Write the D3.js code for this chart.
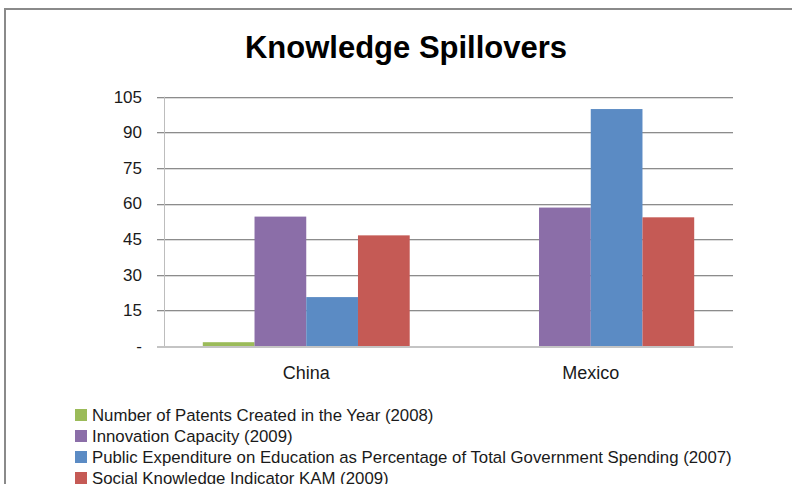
<!DOCTYPE html>
<html lang="en">
<head>
    <meta charset="UTF-8">
    <title>Knowledge Spillovers</title>
    <style>
        body {
            margin: 0;
            background-color: #FFFFFF;
            font-family: "Liberation Sans", Arial, sans-serif;
        }
        svg text {
            fill: #1a1a1a;
        }
    </style>
</head>
<body>
    <div id="chart"></div>

    <script src="https://d3js.org/d3.v7.min.js"></script>
    <script>
        // Data
        const categories = ["China", "Mexico"];
        const seriesNames = [
            "Number of Patents Created in the Year (2008)",
            "Innovation Capacity (2009)",
            "Public Expenditure on Education as Percentage of Total Government Spending (2007)",
            "Social Knowledge Indicator KAM (2009)"
        ];
        const patents = [1.6, 0];
        const innovation = [54.5, 58.3];
        const expenditure = [20.6, 99.8];
        const social = [46.6, 54.2];
        const yTicks = [0, 15, 30, 45, 60, 75, 90, 105];
        const colors = ["#9BBB59", "#8B6EA8", "#5B8BC4", "#C55A55"];

        const seriesValues = [patents, innovation, expenditure, social];

        const width = 792;
        const height = 484;
        const margin = { top: 96.7, right: 59, bottom: 138, left: 164 };

        const svg = d3.select("#chart")
            .append("svg")
            .attr("width", width)
            .attr("height", height);

        // Outer chart border
        svg.append("rect")
            .attr("x", 5)
            .attr("y", 9)
            .attr("width", 820)
            .attr("height", 520)
            .attr("fill", "none")
            .attr("stroke", "#8a8a8a")
            .attr("stroke-width", 2);

        // Title
        svg.append("text")
            .attr("x", 406)
            .attr("y", 58)
            .attr("text-anchor", "middle")
            .attr("font-size", "31px")
            .attr("font-weight", "bold")
            .style("fill", "#000")
            .text("Knowledge Spillovers");

        // Scales
        const x0 = d3.scaleBand()
            .domain(categories)
            .range([margin.left, width - margin.right]);

        const x1 = d3.scaleBand()
            .domain(d3.range(seriesNames.length))
            .range([0, x0.bandwidth()])
            .paddingOuter(0.75);

        const y = d3.scaleLinear()
            .domain([0, 105])
            .range([height - margin.bottom, margin.top]);

        // Gridlines (with a light shadow line underneath)
        const grid = svg.append("g");
        yTicks.filter(d => d > 0).forEach(t => {
            grid.append("line")
                .attr("x1", margin.left - 7)
                .attr("x2", width - margin.right)
                .attr("y1", Math.round(y(t)) + 1.5)
                .attr("y2", Math.round(y(t)) + 1.5)
                .attr("stroke", "#dcdcdc")
                .attr("stroke-width", 1);
            grid.append("line")
                .attr("x1", margin.left - 7)
                .attr("x2", width - margin.right)
                .attr("y1", Math.round(y(t)) + 0.5)
                .attr("y2", Math.round(y(t)) + 0.5)
                .attr("stroke", "#8c8c8c")
                .attr("stroke-width", 1);
        });

        // Vertical axis line
        svg.append("line")
            .attr("x1", margin.left + 0.5)
            .attr("x2", margin.left + 0.5)
            .attr("y1", y(105))
            .attr("y2", y(0))
            .attr("stroke", "#bdbdbd")
            .attr("stroke-width", 1);

        // Y tick labels
        const yAxis = d3.axisLeft(y)
            .tickValues(yTicks)
            .tickSize(0)
            .tickPadding(22)
            .tickFormat(d => d === 0 ? "-" : d);

        svg.append("g")
            .attr("transform", `translate(${margin.left},0)`)
            .call(yAxis)
            .call(g => g.select(".domain").remove())
            .call(g => g.selectAll("text")
                .attr("font-family", "Liberation Sans, Arial, sans-serif")
                .attr("font-size", "17px")
                .style("fill", "#1a1a1a"));

        // Bars
        categories.forEach((cat, ci) => {
            seriesValues.forEach((vals, si) => {
                if (vals[ci] <= 0) return;
                svg.append("rect")
                    .attr("x", x0(cat) + x1(si))
                    .attr("y", y(vals[ci]))
                    .attr("width", x1.bandwidth())
                    .attr("height", y(0) - y(vals[ci]))
                    .attr("fill", colors[si]);
            });
        });

        // Baseline
        svg.append("line")
            .attr("x1", margin.left - 7)
            .attr("x2", width - margin.right)
            .attr("y1", y(0) + 1)
            .attr("y2", y(0) + 1)
            .attr("stroke", "#c4c4c4")
            .attr("stroke-width", 2);

        // Category labels
        svg.selectAll(".cat")
            .data(categories)
            .enter()
            .append("text")
            .attr("class", "cat")
            .attr("x", d => x0(d) + x0.bandwidth() / 2)
            .attr("y", 379)
            .attr("text-anchor", "middle")
            .attr("font-size", "18px")
            .text(d => d);

        // Legend
        const legend = svg.append("g");
        seriesNames.forEach((name, i) => {
            const cy = 415 + i * 21;
            legend.append("rect")
                .attr("x", 75)
                .attr("y", cy - 6)
                .attr("width", 12)
                .attr("height", 12)
                .attr("fill", colors[i]);
            legend.append("text")
                .attr("x", 92)
                .attr("y", cy + 5.5)
                .attr("font-size", "16.8px")
                .text(name);
        });
    </script>
</body>
</html>
